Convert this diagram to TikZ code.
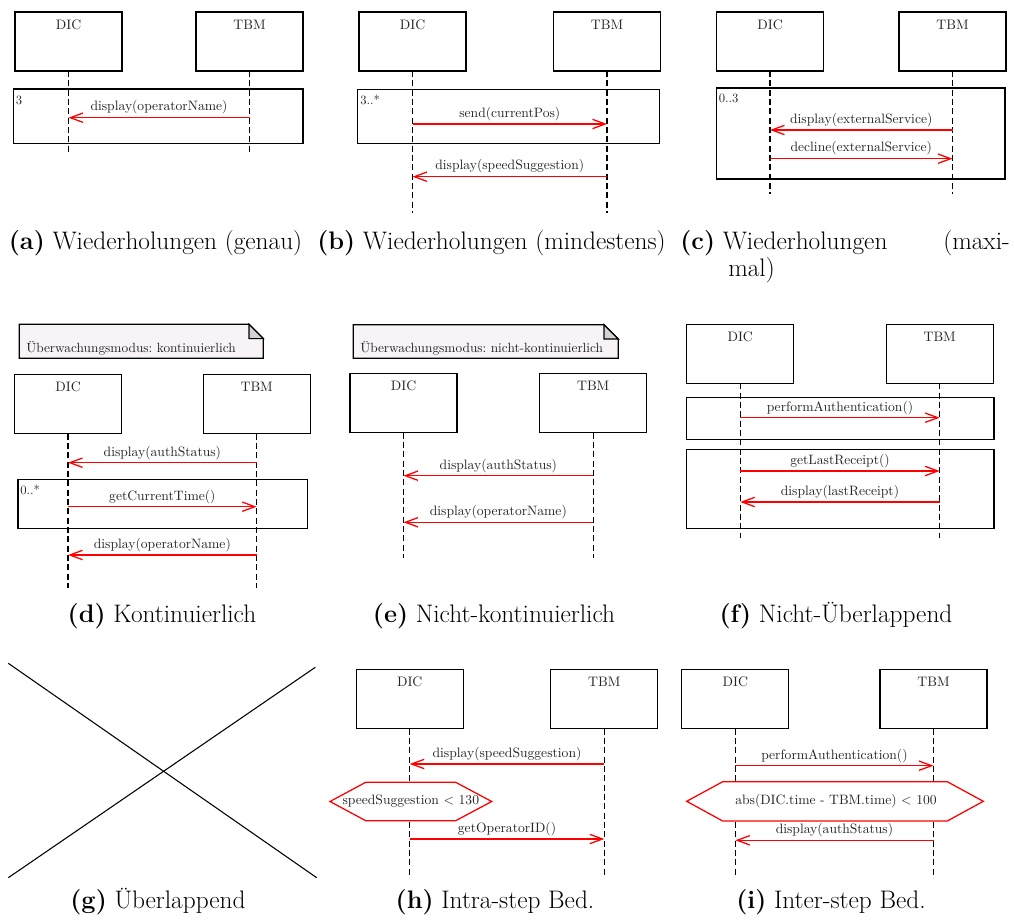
\documentclass[tikz,border=0pt]{standalone}
\usetikzlibrary{arrows.meta}
\definecolor{notefill}{RGB}{247,243,247}
\definecolor{foldfill}{RGB}{212,208,214}
\definecolor{txt}{RGB}{35,35,35}
\tikzset{
  obj/.style={draw, line width=0.9pt, minimum width=80.25pt, minimum height=44.25pt, inner sep=0pt, outer sep=0pt},
  objlab/.style={anchor=north, inner sep=0pt, text=txt, font=\fontsize{10.3}{12}\selectfont},
  lifeline/.style={draw, line width=0.8pt, dash pattern=on 4.5pt off 2.5pt},
  msg/.style={draw=red, line width=0.95pt, -{Straight Barb[length=9.5pt,width=7pt]}},
  msglab/.style={above, inner sep=2pt, text=txt, font=\fontsize{10.2}{12}\selectfont},
  frame/.style={draw, line width=0.9pt},
  framelab/.style={anchor=north west, inner sep=0pt, text=txt, font=\fontsize{9.5}{11}\selectfont},
  notebody/.style={draw, line width=0.9pt, fill=notefill},
  notefold/.style={draw, line width=0.9pt, fill=foldfill},
  notelab/.style={anchor=base west, inner sep=0pt, text=txt, font=\fontsize{10}{12}\selectfont\frenchspacing},
  cond/.style={draw=red, line width=0.95pt, fill=white},
  condlab/.style={inner sep=0pt, text=txt, font=\fontsize{10.2}{12}\selectfont},
  cross/.style={draw, line width=0.8pt},
  captxt/.style={anchor=base, inner sep=0pt, font=\fontsize{19}{23}\selectfont},
}
\begin{document}
\begin{tikzpicture}[x=0.75pt,y=-0.75pt]
\useasboundingbox (0,0) rectangle (1014,920);

% ---------------- (a) ----------------
\node[obj] (aD) at (68.5,41.5) {};
\node[obj] (aT) at (249.5,41.5) {};
\node[objlab] at ([yshift=-5.6pt]aD.north) {DIC};
\node[objlab] at ([yshift=-5.6pt]aT.north) {TBM};
\coordinate (aDe) at (68.5,154);
\coordinate (aTe) at (249.5,154);
\draw[lifeline] (aD.south) -- (aDe);
\draw[lifeline] (aT.south) -- (aTe);
\draw[frame] (13.3,89) rectangle (303,143.3);
\node[framelab] at (15.5,95.5) {3};
\draw[msg] (aT |- 0,117.7) -- node[msglab]{display(operatorName)} (aD |- 0,117.7);

% ---------------- (b) ----------------
\node[obj] (bD) at (412.5,41.5) {};
\node[obj] (bT) at (607,41.5) {};
\node[objlab] at ([yshift=-5.6pt]bD.north) {DIC};
\node[objlab] at ([yshift=-5.6pt]bT.north) {TBM};
\coordinate (bDe) at (412.5,213);
\coordinate (bTe) at (607,213);
\draw[lifeline] (bD.south) -- (bDe);
\draw[lifeline] (bT.south) -- (bTe);
\draw[frame] (357.7,89.7) rectangle (659.3,143.3);
\node[framelab] at (360,94.5) {3..*};
\draw[msg] (bD |- 0,124) -- node[msglab]{send(currentPos)} (bT |- 0,124);
\draw[msg] (bT |- 0,176.7) -- node[msglab]{display(speedSuggestion)} (bD |- 0,176.7);

% ---------------- (c) ----------------
\node[obj] (cD) at (770,41.5) {};
\node[obj] (cT) at (952.5,41.5) {};
\node[objlab] at ([yshift=-5.6pt]cD.north) {DIC};
\node[objlab] at ([yshift=-5.6pt]cT.north) {TBM};
\coordinate (cDe) at (770,194);
\coordinate (cTe) at (952.5,194);
\draw[lifeline] (cD.south) -- (cDe);
\draw[lifeline] (cT.south) -- (cTe);
\draw[frame] (716.3,88) rectangle (1005,179);
\node[framelab] at (718.5,94) {0..3};
\draw[msg] (cT |- 0,130) -- node[msglab]{display(externalService)} (cD |- 0,130);
\draw[msg] (cD |- 0,158.7) -- node[msglab]{decline(externalService)} (cT |- 0,158.7);

% ---------------- (d) ----------------
\draw[notebody] (19.3,324.3) -- (249,324.3) -- (263.3,338.6) -- (263.3,358.3) -- (19.3,358.3) -- cycle;
\draw[notefold] (249,324.3) -- (249,338.6) -- (263.3,338.6) -- cycle;
\node[notelab] (dN) at (26,352) {Überwachungsmodus: kontinuierlich};
\node[obj] (dD) at (68,404) {};
\node[obj] (dT) at (256.7,404) {};
\node[objlab] at ([yshift=-5.6pt]dD.north) {DIC};
\node[objlab] at ([yshift=-5.6pt]dT.north) {TBM};
\coordinate (dDe) at (68,588);
\coordinate (dTe) at (256.7,588);
\draw[lifeline] (dD.south) -- (dDe);
\draw[lifeline] (dT.south) -- (dTe);
\draw[frame] (18,479.3) rectangle (307.7,528.7);
\node[framelab] at (20,484.5) {0..*};
\draw[msg] (dT |- 0,462.7) -- node[msglab]{display(authStatus)} (dD |- 0,462.7);
\draw[msg] (dD |- 0,506.7) -- node[msglab]{getCurrentTime()} (dT |- 0,506.7);
\draw[msg] (dT |- 0,555) -- node[msglab]{display(operatorName)} (dD |- 0,555);

% ---------------- (e) ----------------
\draw[notebody] (353.3,324.7) -- (604,324.7) -- (618.3,339) -- (618.3,358.3) -- (353.3,358.3) -- cycle;
\draw[notefold] (604,324.7) -- (604,339) -- (618.3,339) -- cycle;
\node[notelab] (eN) at (360,352) {Überwachungsmodus: nicht-kontinuierlich};
\node[obj] (eD) at (403.5,403) {};
\node[obj] (eT) at (593.2,403) {};
\node[objlab] at ([yshift=-5.6pt]eD.north) {DIC};
\node[objlab] at ([yshift=-5.6pt]eT.north) {TBM};
\coordinate (eDe) at (403.5,558);
\coordinate (eTe) at (593.2,558);
\draw[lifeline] (eD.south) -- (eDe);
\draw[lifeline] (eT.south) -- (eTe);
\draw[msg] (eT |- 0,475.7) -- node[msglab]{display(authStatus)} (eD |- 0,475.7);
\draw[msg] (eT |- 0,522.3) -- node[msglab]{display(operatorName)} (eD |- 0,522.3);

% ---------------- (f) ----------------
\node[obj] (fD) at (740.2,353.8) {};
\node[obj] (fT) at (939.7,353.8) {};
\node[objlab] at ([yshift=-5.6pt]fD.north) {DIC};
\node[objlab] at ([yshift=-5.6pt]fT.north) {TBM};
\coordinate (fDe) at (740.2,538);
\coordinate (fTe) at (939.7,538);
\draw[lifeline] (fD.south) -- (fDe);
\draw[lifeline] (fT.south) -- (fTe);
\draw[frame] (686.7,397.7) rectangle (994,439.3);
\draw[frame] (686.7,449.3) rectangle (994,528.7);
\draw[msg] (fD |- 0,417.7) -- node[msglab]{performAuthentication()} (fT |- 0,417.7);
\draw[msg] (fD |- 0,471) -- node[msglab]{getLastReceipt()} (fT |- 0,471);
\draw[msg] (fT |- 0,502) -- node[msglab]{display(lastReceipt)} (fD |- 0,502);

% ---------------- (g) ----------------
\draw[cross] (8.3,663.3) -- (316.7,877.7);
\draw[cross] (315.3,667.3) -- (8.3,877.7);

% ---------------- (h) ----------------
\node[obj] (hD) at (409.7,699) {};
\node[obj] (hT) at (604.3,699) {};
\node[objlab] at ([yshift=-5.6pt]hD.north) {DIC};
\node[objlab] at ([yshift=-5.6pt]hT.north) {TBM};
\coordinate (hDe) at (409.7,876);
\coordinate (hTe) at (604.3,876);
\draw[lifeline] (hD.south) -- (hDe);
\draw[lifeline] (hT.south) -- (hTe);
\draw[msg] (hT |- 0,764) -- node[msglab]{display(speedSuggestion)} (hD |- 0,764);
\draw[cond] (330,801.5) -- (365.7,782.3) -- (455.7,782.3) -- (491.7,801.5) -- (455.7,820.7) -- (365.7,820.7) -- cycle;
\node[condlab] (hC) at (410.8,801.5) {speedSuggestion \textless{} 130};
\draw[msg] (hD |- 0,839) -- node[msglab]{getOperatorID()} (hT |- 0,839);

% ---------------- (i) ----------------
\node[obj] (iD) at (735.3,699) {};
\node[obj] (iT) at (933.5,699) {};
\node[objlab] at ([yshift=-5.6pt]iD.north) {DIC};
\node[objlab] at ([yshift=-5.6pt]iT.north) {TBM};
\coordinate (iDe) at (735.3,876);
\coordinate (iTe) at (933.5,876);
\draw[lifeline] (iD.south) -- (iDe);
\draw[lifeline] (iT.south) -- (iTe);
\draw[msg] (iD |- 0,765.7) -- node[msglab]{performAuthentication()} (iT |- 0,765.7);
\draw[cond] (686.7,801.3) -- (722.7,781.7) -- (947.3,781.7) -- (983.3,801.3) -- (947.3,821) -- (722.7,821) -- cycle;
\node[condlab] (iC) at (836,801.3) {abs(DIC.time - TBM.time) \textless{} 100};
\draw[msg] (iT |- 0,840.3) -- node[msglab]{display(authStatus)} (iD |- 0,840.3);

% ---------------- captions ----------------
\node[captxt] (capA) at (155.5,249) {\textbf{(a)} Wiederholungen (genau)};
\node[captxt] (capB) at (491.5,249) {\textbf{(b)} Wiederholungen (mindestens)};
\node[captxt, anchor=base west] (capC) at (680,249) {\textbf{(c)} Wiederholungen};
\node[captxt, anchor=base east] (capC2) at (1010,249) {(maxi-};
\node[captxt, anchor=base west] (capC3) at (728,276) {mal)};
\node[captxt] (capD) at (162,622) {\textbf{(d)} Kontinuierlich};
\node[captxt] (capE) at (494,622) {\textbf{(e)} Nicht-kontinuierlich};
\node[captxt] (capF) at (836,622) {\textbf{(f)} Nicht-Überlappend};
\node[captxt] (capG) at (158,908) {\textbf{(g)} Überlappend};
\node[captxt] (capH) at (495,908) {\textbf{(h)} Intra-step Bed.};
\node[captxt] (capI) at (831,908) {\textbf{(i)} Inter-step Bed.};
\end{tikzpicture}
\end{document}
